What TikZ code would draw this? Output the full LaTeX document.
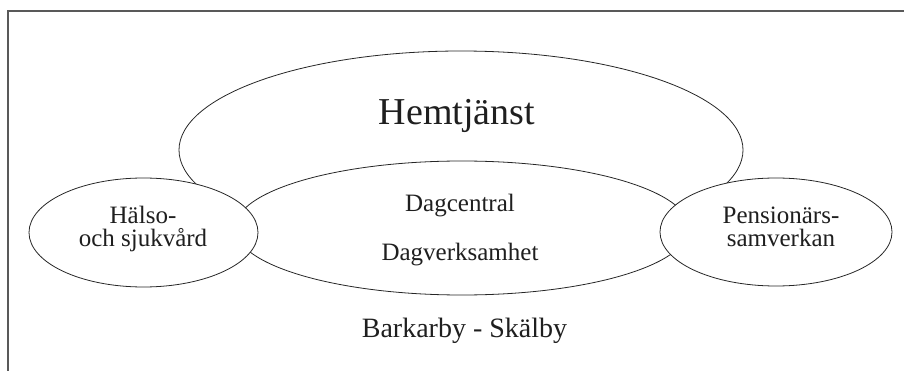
\documentclass[tikz,border=0pt]{standalone}
\usepackage{fontspec}
\setmainfont{Liberation Serif}
\usetikzlibrary{shapes.geometric}
\begin{document}
\begin{tikzpicture}[x=1pt,y=-1pt,
  frame/.style={draw=black!65,line width=1.1pt},
  blob/.style={ellipse,draw=black!85,line width=0.8pt,fill=white,inner sep=0pt},
  txt/.style={anchor=base,inner sep=0pt,text=black!88},
  big/.style={txt,font=\fontsize{38}{40}\selectfont},
  mid/.style={txt,font=\fontsize{25}{28}\selectfont},
  pair/.style={txt,align=center,font=\fontsize{25}{23}\selectfont},
  foot/.style={txt,font=\fontsize{28}{30}\selectfont}]
  \useasboundingbox (0,0) rectangle (904,371);
  % open frame: top edge and left edge
  \coordinate (ftl) at (8,11);
  \coordinate (ftr) at (904,11);
  \coordinate (fbl) at (8,371);
  \draw[frame] (ftr) -- (ftl) -- (fbl);
  % ellipses, back to front
  \node[blob,minimum width=564pt,minimum height=198pt] (hem) at (461,150) {};
  \node[blob,minimum width=454pt,minimum height=134pt] (dag) at (462,228) {};
  \node[blob,minimum width=229pt,minimum height=109pt] (hal) at (143.5,232.5) {};
  \node[blob,minimum width=232pt,minimum height=108pt] (pen) at (776,232) {};
  % labels (two-line labels are placed by the baseline of their last line)
  \node[big] (them) at (457,125) {Hemtjänst};
  \node[mid] (tdc) at (460,212) {Dagcentral};
  \node[mid] (tdv) at (460,261) {Dagverksamhet};
  \node[pair] (thal) at (143,247) {Hälso-\\och sjukvård};
  \node[pair] (tpen) at (781,247) {Pensionärs-\\samverkan};
  \node[foot] (tbs) at (464.5,337) {Barkarby - Skälby};
\end{tikzpicture}
\end{document}
